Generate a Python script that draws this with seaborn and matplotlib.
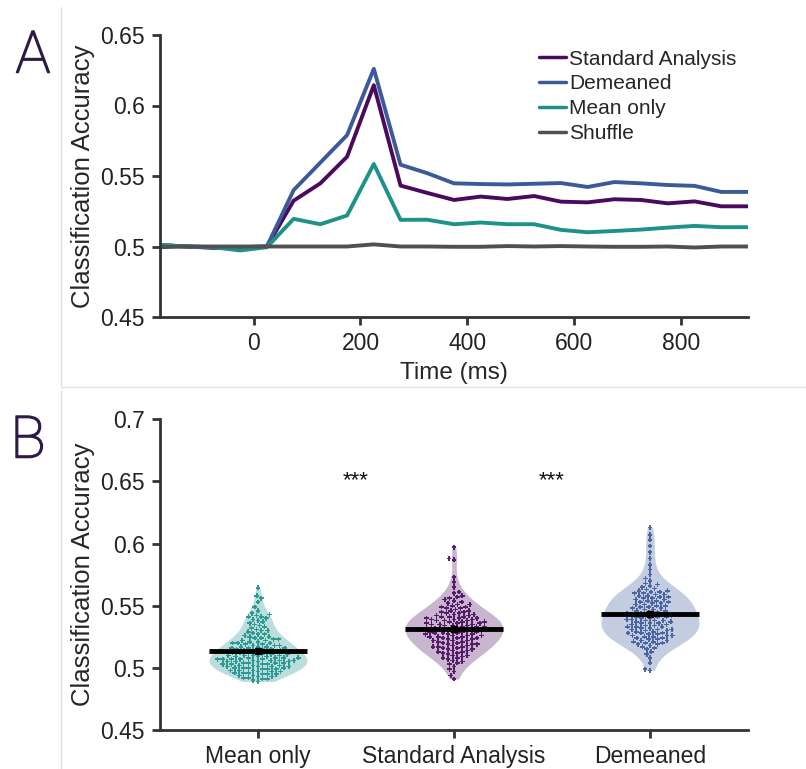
import numpy as np
import pandas as pd
import matplotlib
matplotlib.use("Agg")
import matplotlib.pyplot as plt
import matplotlib.patheffects as pe
import seaborn as sns
from matplotlib.lines import Line2D

# panel A: time course (ms) of classification accuracy
times = [-175, -125, -75, -25, 25, 75, 125, 175, 225, 275, 325, 375,
         425, 475, 525, 575, 625, 675, 725, 775, 825, 875, 925]
standard = [0.501, 0.500, 0.499, 0.4995, 0.500, 0.5325, 0.5448, 0.5637, 0.6144, 0.5432, 0.538, 0.533,
            0.5354, 0.5337, 0.5358, 0.5318, 0.5313, 0.5335, 0.533, 0.5306, 0.532, 0.5285, 0.5285]
demeaned = [0.501, 0.500, 0.4995, 0.4995, 0.500, 0.540, 0.5595, 0.579, 0.626, 0.558, 0.552, 0.5448,
            0.5443, 0.544, 0.5445, 0.545, 0.5422, 0.5457, 0.5448, 0.5436, 0.543, 0.5387, 0.5387]
mean_only = [0.501, 0.500, 0.4995, 0.4972, 0.4995, 0.5196, 0.5158, 0.522, 0.5585, 0.5189, 0.519, 0.5158,
             0.517, 0.5158, 0.5158, 0.5118, 0.5101, 0.511, 0.512, 0.5134, 0.5146, 0.5137, 0.5137]
shuffle = [0.4995, 0.500, 0.500, 0.500, 0.500, 0.500, 0.500, 0.500, 0.5015, 0.500, 0.500, 0.4998,
           0.4998, 0.5003, 0.500, 0.5003, 0.500, 0.4998, 0.4998, 0.500, 0.4993, 0.500, 0.500]

# panel B: per-subject accuracies
acc_mean_only = [
    0.489, 0.490, 0.491, 0.491, 0.492, 0.493, 0.494, 0.494, 0.495, 0.495,
    0.496, 0.496, 0.497, 0.497, 0.498, 0.498, 0.498, 0.499, 0.499, 0.500,
    0.500, 0.500, 0.501, 0.501, 0.501, 0.502, 0.502, 0.502, 0.503, 0.503,
    0.503, 0.504, 0.504, 0.504, 0.505, 0.505, 0.505, 0.505, 0.506, 0.506,
    0.506, 0.507, 0.507, 0.507, 0.507, 0.508, 0.508, 0.508, 0.508, 0.509,
    0.509, 0.509, 0.510, 0.510, 0.510, 0.510, 0.511, 0.511, 0.511, 0.512,
    0.512, 0.512, 0.513, 0.513, 0.513, 0.514, 0.514, 0.514, 0.515, 0.515,
    0.515, 0.516, 0.516, 0.516, 0.517, 0.517, 0.517, 0.518, 0.518, 0.518,
    0.519, 0.519, 0.520, 0.520, 0.520, 0.521, 0.521, 0.522, 0.522, 0.523,
    0.523, 0.524, 0.524, 0.525, 0.525, 0.526, 0.527, 0.527, 0.528, 0.529,
    0.530, 0.530, 0.531, 0.532, 0.533, 0.534, 0.535, 0.536, 0.537, 0.538,
    0.539, 0.540, 0.541, 0.541, 0.542, 0.543, 0.544, 0.546, 0.549, 0.553,
    0.556, 0.558, 0.5645, 0.492, 0.493, 0.495, 0.496, 0.497, 0.499, 0.500,
    0.501, 0.503, 0.504, 0.506, 0.507,
]
acc_standard = [
    0.491, 0.494, 0.497, 0.499, 0.501, 0.503, 0.504, 0.506, 0.507, 0.508,
    0.509, 0.510, 0.511, 0.512, 0.512, 0.513, 0.514, 0.514, 0.515, 0.516,
    0.516, 0.517, 0.517, 0.518, 0.518, 0.519, 0.519, 0.520, 0.520, 0.521,
    0.521, 0.522, 0.522, 0.522, 0.523, 0.523, 0.524, 0.524, 0.524, 0.525,
    0.525, 0.525, 0.526, 0.526, 0.526, 0.527, 0.527, 0.527, 0.528, 0.528,
    0.528, 0.529, 0.529, 0.529, 0.530, 0.530, 0.530, 0.531, 0.531, 0.531,
    0.532, 0.532, 0.532, 0.533, 0.533, 0.533, 0.534, 0.534, 0.534, 0.535,
    0.535, 0.535, 0.536, 0.536, 0.536, 0.537, 0.537, 0.537, 0.538, 0.538,
    0.538, 0.539, 0.539, 0.539, 0.540, 0.540, 0.540, 0.541, 0.541, 0.541,
    0.542, 0.542, 0.543, 0.543, 0.544, 0.544, 0.545, 0.545, 0.546, 0.547,
    0.548, 0.549, 0.550, 0.551, 0.552, 0.554, 0.556, 0.558, 0.561, 0.565,
    0.569, 0.573, 0.587, 0.588, 0.597, 0.505, 0.508, 0.510, 0.513, 0.515,
    0.517, 0.519, 0.546, 0.548, 0.549, 0.551, 0.553, 0.555, 0.557, 0.560,
]
acc_demeaned = [
    0.498, 0.499, 0.504, 0.508, 0.511, 0.513, 0.515, 0.516, 0.517, 0.518,
    0.519, 0.520, 0.520, 0.521, 0.522, 0.522, 0.523, 0.524, 0.524, 0.525,
    0.525, 0.526, 0.526, 0.527, 0.527, 0.528, 0.528, 0.529, 0.529, 0.530,
    0.530, 0.531, 0.531, 0.532, 0.532, 0.533, 0.533, 0.534, 0.534, 0.535,
    0.535, 0.536, 0.536, 0.537, 0.537, 0.538, 0.538, 0.539, 0.539, 0.540,
    0.540, 0.541, 0.541, 0.542, 0.542, 0.543, 0.543, 0.544, 0.544, 0.545,
    0.545, 0.546, 0.546, 0.547, 0.547, 0.548, 0.548, 0.549, 0.549, 0.550,
    0.550, 0.551, 0.551, 0.552, 0.552, 0.553, 0.553, 0.554, 0.554, 0.555,
    0.555, 0.556, 0.556, 0.557, 0.557, 0.558, 0.558, 0.559, 0.559, 0.560,
    0.560, 0.561, 0.561, 0.562, 0.562, 0.563, 0.564, 0.565, 0.566, 0.567,
    0.568, 0.570, 0.572, 0.575, 0.579, 0.583, 0.588, 0.593, 0.598, 0.603,
    0.607, 0.613, 0.519, 0.521, 0.523, 0.526, 0.528, 0.531, 0.533, 0.536,
    0.538, 0.541, 0.543,
]

groups = ["Mean only", "Standard Analysis", "Demeaned"]
colors = {"Standard Analysis": "#4a0a5e", "Demeaned": "#3d5a98",
          "Mean only": "#1f918b", "Shuffle": "#505050"}

sns.set_style("ticks")
plt.rcParams["font.family"] = ["Liberation Sans", "DejaVu Sans"]
plt.rcParams["axes.edgecolor"] = "#333333"
plt.rcParams["xtick.color"] = "#333333"
plt.rcParams["ytick.color"] = "#333333"
plt.rcParams["xtick.labelcolor"] = "#222222"
plt.rcParams["ytick.labelcolor"] = "#222222"

fig = plt.figure(figsize=(8.06, 7.69), dpi=100)
axA = fig.add_axes([160/806, 1-317/769, 588/806, 282/769])
axB = fig.add_axes([160/806, 1-730/769, 588/806, 310.7/769])

# ---- panel A
df_time = pd.DataFrame({
    "time": times * 4,
    "acc": standard + demeaned + mean_only + shuffle,
    "cond": (["Standard Analysis"] * len(times) + ["Demeaned"] * len(times)
             + ["Mean only"] * len(times) + ["Shuffle"] * len(times)),
})
hue_order = ["Standard Analysis", "Demeaned", "Mean only", "Shuffle"]
sns.lineplot(data=df_time, x="time", y="acc", hue="cond", hue_order=hue_order,
             palette=colors, linewidth=2.8, ax=axA)
axA.set_xlim(-175, 925)
axA.set_ylim(0.45, 0.65)
axA.set_xticks([0, 200, 400, 600, 800])
axA.set_yticks([0.45, 0.5, 0.55, 0.6, 0.65])
axA.set_yticklabels(["0.45", "0.5", "0.55", "0.6", "0.65"])
axA.set_xlabel("Time (ms)", fontsize=17.5, labelpad=5)
axA.set_ylabel("Classification Accuracy", fontsize=18.5, labelpad=4)
leg = axA.legend(loc="upper left", bbox_to_anchor=(0.6446, 0.948), frameon=False,
                 fontsize=15, handlelength=1.3, handletextpad=0.15,
                 labelspacing=0.28, borderaxespad=0, borderpad=0)
for h in leg.get_lines():
    h.set_linewidth(2.5)

# ---- panel B
df_acc = pd.DataFrame({
    "group": (["Mean only"] * len(acc_mean_only) + ["Standard Analysis"] * len(acc_standard)
              + ["Demeaned"] * len(acc_demeaned)),
    "acc": acc_mean_only + acc_standard + acc_demeaned,
})
sns.violinplot(data=df_acc, x="group", y="acc", hue="group", order=groups,
               palette=colors, inner=None, cut=0, width=0.5, density_norm="width",
               linewidth=0, saturation=1, alpha=0.3, legend=False, ax=axB)
sns.swarmplot(data=df_acc, x="group", y="acc", hue="group", order=groups,
              palette=colors, marker="P", size=3.5, linewidth=0, alpha=0.9,
              legend=False, ax=axB)
for i, g in enumerate(groups):
    m = df_acc.loc[df_acc["group"] == g, "acc"].mean()
    axB.hlines(m, i - 0.25, i + 0.25, color="black", linewidth=3.5, zorder=5)
    axB.plot(i, m, "s", color="black", markersize=5, zorder=6)

for xpos in [0.5, 1.5]:
    axB.text(xpos, 0.651, "***", ha="center", va="center", fontsize=16, color="#111111")

axB.set_xlim(-0.5, 2.5)
axB.set_ylim(0.45, 0.7)
axB.set_yticks([0.45, 0.5, 0.55, 0.6, 0.65, 0.7])
axB.set_yticklabels(["0.45", "0.5", "0.55", "0.6", "0.65", "0.7"])
axB.set_xlabel("")
axB.set_ylabel("Classification Accuracy", fontsize=18.5, labelpad=4)

for ax in (axA, axB):
    sns.despine(ax=ax)
    ax.spines["left"].set_linewidth(2)
    ax.spines["bottom"].set_linewidth(2)
    ax.tick_params(axis="both", width=2, length=6, labelsize=16.5, pad=5)

# panel letters (thin face, slightly thickened) and frame lines
letter_fx = [pe.withStroke(linewidth=1.1, foreground="#2e1a47")]
fig.text(33/806, 1-57/769, "A", ha="center", va="center", fontsize=42,
         family="Roboto", fontweight="light", color="#2e1a47", path_effects=letter_fx)
fig.text(28/806, 1-442/769, "B", ha="center", va="center", fontsize=42,
         family="Roboto", fontweight="light", color="#2e1a47", path_effects=letter_fx)
fig.add_artist(Line2D([61/806, 61/806], [1-7/769, 1-386/769], transform=fig.transFigure,
                      color="#e2e2e2", linewidth=1))
fig.add_artist(Line2D([61/806, 1.0], [1-387/769, 1-387/769], transform=fig.transFigure,
                      color="#e2e2e2", linewidth=1))
fig.add_artist(Line2D([61/806, 61/806], [1-391/769, 0.0], transform=fig.transFigure,
                      color="#e2e2e2", linewidth=1))

fig.savefig("out.png", dpi=100, facecolor="white")
